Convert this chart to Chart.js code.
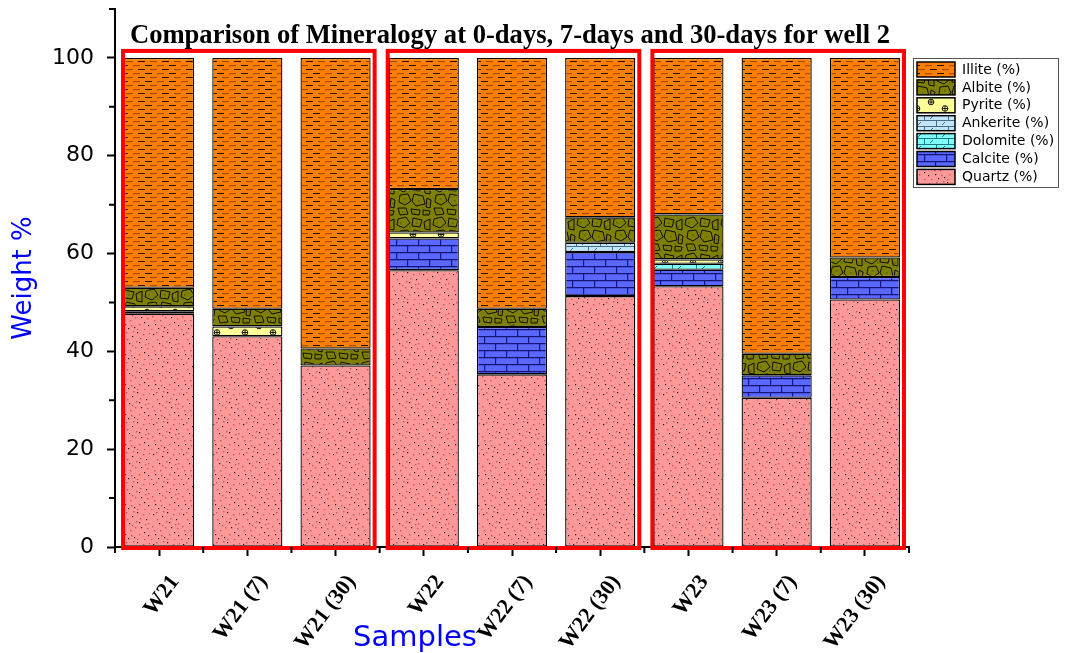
<!DOCTYPE html>
<html>
<head>
<meta charset="utf-8">
<script src="https://cdn.jsdelivr.net/npm/chart.js@4.4.1/dist/chart.umd.min.js"></script>
<style>
  html, body { margin: 0; padding: 0; background: #fff; }
  #wrap { width: 1066px; height: 653px; }
</style>
</head>
<body>
<div id="wrap"><canvas id="myChartMinerals"></canvas></div>
<script>
// sample names (x axis)
const samples = ['W21', 'W21 (7)', 'W21 (30)', 'W22', 'W22 (7)', 'W22 (30)', 'W23', 'W23 (7)', 'W23 (30)'];

// weight % per mineral (bottom to top of each stack)
const quartz   = [47.7, 43.1, 37.1, 56.6, 35.3, 51.3, 53.3, 30.5, 50.6];
const calcite  = [0,    0,    0,    6.5,  9.7,  9.0,  3.4,  4.6,  4.6];
const dolomite = [0.5,  0,    0,    0,    0,    0,    1.2,  0,    0];
const ankerite = [0,    0,    0,    0,    0,    1.9,  0,    0,    0];
const pyrite   = [1.0,  2.0,  0,    1.2,  0,    0,    0.9,  0,    0];
const albite   = [3.8,  3.6,  3.5,  8.9,  3.7,  5.2,  9.2,  4.4,  4.0];
const illite   = [47.0, 51.3, 59.4, 26.8, 51.3, 32.6, 32.0, 60.5, 40.8];

const yTicks = [0, 20, 40, 60, 80, 100];
const yMinorTicks = [10, 30, 50, 70, 90, 110];
const groups = [[0, 2], [3, 5], [6, 8]]; // red frames around each well

// ---- fill patterns (lithology style) ----
function makePattern(w, h, bg, draw) {
  const c = document.createElement('canvas');
  c.width = w; c.height = h;
  const g = c.getContext('2d');
  g.fillStyle = bg;
  g.fillRect(0, 0, w, h);
  draw(g);
  return g.createPattern(c, 'repeat');
}

const illitePat = makePattern(24, 8, '#ff8000', g => {
  g.fillStyle = '#1a0a00';
  g.fillRect(1, 1, 7, 1);
  g.fillRect(18, 5, 6, 1);
  g.fillRect(0, 5, 1, 1);
  g.fillStyle = '#a44c00';
  g.fillRect(13, 1, 7, 1.2);
  g.fillRect(6, 5, 7, 1.2);
});

const albitePat = makePattern(36, 36, '#808000', g => {
  g.fillStyle = '#5f5f00';
  [[4,6],[20,6],[30,10],[8,18],[22,20],[32,23],[6,31],[18,32],[30,33],[13,10],[26,27]].forEach(p => g.fillRect(p[0], p[1], 1.5, 1.5));
  g.strokeStyle = '#000';
  g.lineWidth = 0.9;
  const polys = [
    [[2,3],[10,1],[14,7],[8,12],[1,9]],
    [[17,2],[26,4],[24,11],[16,10]],
    [[28,6],[34,3],[34,14],[29,13]],
    [[4,15],[12,14],[15,21],[9,25],[3,22]],
    [[18,14],[27,16],[29,24],[20,26],[16,21]],
    [[31,18],[35,20],[34,28],[30,27]],
    [[2,28],[10,28],[12,34],[4,35]],
    [[15,29],[24,30],[23,35],[16,34]],
    [[27,30],[34,31],[33,35],[27,35]]
  ];
  polys.forEach(p => {
    g.beginPath();
    g.moveTo(p[0][0], p[0][1]);
    for (let i = 1; i < p.length; i++) g.lineTo(p[i][0], p[i][1]);
    g.closePath();
    g.stroke();
  });
});

const pyritePat = makePattern(28, 14, '#ffff99', g => {
  g.strokeStyle = '#000';
  g.lineWidth = 0.9;
  [[7, 4], [21, 10.5]].forEach(p => {
    g.beginPath();
    g.arc(p[0], p[1], 2.8, 0, Math.PI * 2);
    g.moveTo(p[0] - 2.8, p[1]); g.lineTo(p[0] + 2.8, p[1]);
    g.moveTo(p[0], p[1] - 2.8); g.lineTo(p[0], p[1] + 2.8);
    g.stroke();
  });
});

function brickSlash(bg, line) {
  return makePattern(24, 12, bg, g => {
    g.strokeStyle = line;
    g.lineWidth = 1;
    g.beginPath();
    g.moveTo(0, 0.5); g.lineTo(24, 0.5);
    g.moveTo(0, 6.5); g.lineTo(24, 6.5);
    g.moveTo(0.5, 0); g.lineTo(0.5, 6);
    g.moveTo(12.5, 6); g.lineTo(12.5, 12);
    g.moveTo(6, 5); g.lineTo(9, 2);
    g.moveTo(18, 11); g.lineTo(21, 8);
    g.stroke();
  });
}
const ankeritePat = brickSlash('#c0e6f8', '#4a6a88');
const dolomitePat = brickSlash('#80ffff', '#1a7a80');

const calcitePat = makePattern(22, 14, '#5a68ff', g => {
  g.strokeStyle = '#14147a';
  g.lineWidth = 1.2;
  g.beginPath();
  g.moveTo(0, 0.6); g.lineTo(22, 0.6);
  g.moveTo(0, 7.6); g.lineTo(22, 7.6);
  g.moveTo(0.6, 0); g.lineTo(0.6, 7);
  g.moveTo(11.6, 7); g.lineTo(11.6, 14);
  g.stroke();
});

const quartzPat = makePattern(30, 30, '#ff9999', g => {
  g.fillStyle = '#000';
  [[3,4],[17,2],[26,9],[9,13],[21,17],[5,24],[14,27],[28,25],[12,6],[24,22],[19,12],[8,28]].forEach(p => g.fillRect(p[0], p[1], 1.2, 1.2));
  g.fillStyle = '#b55a5a';
  [[7,9],[23,4],[2,16],[16,11],[27,18],[10,20],[19,24],[24,29],[1,29],[13,1],[20,8],[6,2],
   [15,17],[28,13],[4,20],[11,25],[25,14],[17,29],[29,3],[12,15]].forEach(p => g.fillRect(p[0], p[1], 1.4, 1.4));
});

// ---- extra drawing: title, frames, minor ticks, rotated labels, legend ----
const decor = {
  id: 'decor',
  afterDatasetsDraw(chart) {
    const ctx = chart.ctx;
    const ys = chart.scales.y;
    const bars = chart.getDatasetMeta(0).data;
    ctx.save();
    ctx.strokeStyle = '#ff0000';
    ctx.lineWidth = 4;
    groups.forEach(gp => {
      const a = bars[gp[0]], b = bars[gp[1]];
      const left = a.x - a.width / 2 - 1;
      const right = b.x + b.width / 2 + 4;
      const top = ys.getPixelForValue(100) - 7;
      const bottom = ys.getPixelForValue(0) + 1;
      ctx.strokeRect(left, top, right - left, bottom - top);
    });
    ctx.restore();
  },
  afterDraw(chart) {
    const ctx = chart.ctx;
    const xs = chart.scales.x, ys = chart.scales.y;
    const area = chart.chartArea;
    ctx.save();

    // title
    ctx.fillStyle = '#000';
    ctx.font = 'bold 26.6px "Liberation Serif"';
    ctx.textAlign = 'center';
    ctx.textBaseline = 'alphabetic';
    ctx.fillText('Comparison of Mineralogy at 0-days, 7-days and 30-days for well 2', 510, 43);

    // minor ticks
    ctx.strokeStyle = '#000';
    ctx.lineWidth = 2;
    ctx.beginPath();
    yMinorTicks.forEach(v => {
      const y = ys.getPixelForValue(v);
      ctx.moveTo(area.left - 6, y); ctx.lineTo(area.left, y);
    });
    for (let i = 0; i <= samples.length; i++) {
      const x = xs.getPixelForValue(i - 0.5);
      ctx.moveTo(x, area.bottom); ctx.lineTo(x, area.bottom + 6);
    }
    ctx.stroke();

    // rotated sample labels
    ctx.font = 'bold 22px "Liberation Serif"';
    ctx.textAlign = 'right';
    ctx.textBaseline = 'middle';
    samples.forEach((s, i) => {
      const x = xs.getPixelForValue(i);
      ctx.save();
      ctx.translate(x + 16, area.bottom + 31);
      ctx.rotate(-53 * Math.PI / 180);
      ctx.fillText(s, 0, 0);
      ctx.restore();
    });

    // x axis title
    ctx.fillStyle = '#0000ff';
    ctx.font = '29px "DejaVu Sans"';
    ctx.textAlign = 'center';
    ctx.textBaseline = 'alphabetic';
    ctx.fillText('Samples', 415, 646);

    // legend (top entry first)
    const lx = area.right + 4, ly = 58;
    const items = chart.data.datasets.slice().reverse();
    ctx.strokeStyle = '#555';
    ctx.lineWidth = 1;
    ctx.strokeRect(lx + 0.5, ly + 0.5, 145, 129);
    ctx.font = '14px "DejaVu Sans"';
    ctx.textAlign = 'left';
    ctx.textBaseline = 'middle';
    items.forEach((ds, i) => {
      const by = ly + 4 + i * 17.9;
      ctx.fillStyle = ds.backgroundColor;
      ctx.fillRect(lx + 4, by, 38, 15);
      ctx.strokeStyle = '#000';
      ctx.lineWidth = 1.5;
      ctx.strokeRect(lx + 4, by, 38, 15);
      ctx.fillStyle = '#000';
      ctx.fillText(ds.label, lx + 49, by + 8);
    });
    ctx.restore();
  }
};

const ctxMinerals = document.getElementById('myChartMinerals').getContext('2d');
const myChartMinerals = new Chart(ctxMinerals, {
  type: 'bar',
  data: {
    labels: samples,
    datasets: [
      { label: 'Quartz (%)',   data: quartz,   backgroundColor: quartzPat },
      { label: 'Calcite (%)',  data: calcite,  backgroundColor: calcitePat },
      { label: 'Dolomite (%)', data: dolomite, backgroundColor: dolomitePat },
      { label: 'Ankerite (%)', data: ankerite, backgroundColor: ankeritePat },
      { label: 'Pyrite (%)',   data: pyrite,   backgroundColor: pyritePat },
      { label: 'Albite (%)',   data: albite,   backgroundColor: albitePat },
      { label: 'Illite (%)',   data: illite,   backgroundColor: illitePat }
    ].map(d => Object.assign(d, {
      borderColor: '#000',
      borderWidth: 1.3,
      borderSkipped: false,
      categoryPercentage: 1,
      barPercentage: 0.795
    }))
  },
  options: {
    responsive: true,
    maintainAspectRatio: false,
    animation: false,
    events: [],
    layout: { padding: { top: 9, right: 157, left: 0, bottom: 0 } },
    plugins: {
      legend: { display: false },
      tooltip: { enabled: false },
      title: { display: false }
    },
    scales: {
      x: {
        stacked: true,
        afterFit: s => { s.height = 106; s.paddingLeft = 0; s.paddingRight = 0; },
        ticks: { display: false },
        grid: { display: true, offset: false, drawOnChartArea: false, drawTicks: true, tickLength: 9, tickWidth: 2, tickColor: '#000' },
        border: { display: true, color: '#000', width: 2 }
      },
      y: {
        stacked: true,
        min: 0,
        max: 110,
        afterFit: s => { s.width = 115; s.paddingTop = 0; s.paddingBottom = 0; },
        afterBuildTicks: s => { s.ticks = yTicks.map(v => ({ value: v })); },
        ticks: { color: '#000', padding: 13, font: { family: 'DejaVu Sans', size: 22 } },
        grid: { display: true, drawOnChartArea: false, drawTicks: true, tickLength: 8, tickWidth: 2, tickColor: '#000' },
        border: { display: true, color: '#000', width: 2 },
        title: {
          display: true,
          text: 'Weight %',
          color: '#0000ff',
          font: { family: 'DejaVu Sans', size: 26 },
          padding: { top: 9, bottom: 0 }
        }
      }
    }
  },
  plugins: [decor]
});
</script>
</body>
</html>
